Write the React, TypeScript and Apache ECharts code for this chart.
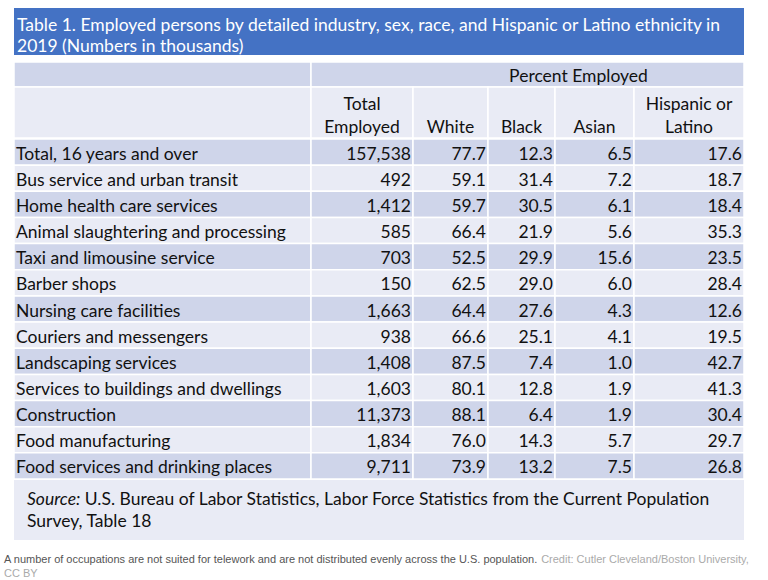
import React, { useEffect, useRef } from "react";
import * as echarts from "echarts";

const titleLines = [
  "Table 1. Employed persons by detailed industry, sex, race, and Hispanic or Latino ethnicity in",
  "2019 (Numbers in thousands)",
];
const groupHeader = "Percent Employed";
const columnHeaders = ["", "Total\nEmployed", "White", "Black", "Asian", "Hispanic or\nLatino"];
const industries = [
  "Total, 16 years and over",
  "Bus service and urban transit",
  "Home health care services",
  "Animal slaughtering and processing",
  "Taxi and limousine service",
  "Barber shops",
  "Nursing care facilities",
  "Couriers and messengers",
  "Landscaping services",
  "Services to buildings and dwellings",
  "Construction",
  "Food manufacturing",
  "Food services and drinking places",
];
const totalEmployed = [157538, 492, 1412, 585, 703, 150, 1663, 938, 1408, 1603, 11373, 1834, 9711];
const whitePct = [77.7, 59.1, 59.7, 66.4, 52.5, 62.5, 64.4, 66.6, 87.5, 80.1, 88.1, 76.0, 73.9];
const blackPct = [12.3, 31.4, 30.5, 21.9, 29.9, 29.0, 27.6, 25.1, 7.4, 12.8, 6.4, 14.3, 13.2];
const asianPct = [6.5, 7.2, 6.1, 5.6, 15.6, 6.0, 4.3, 4.1, 1.0, 1.9, 1.9, 5.7, 7.5];
const hispanicPct = [17.6, 18.7, 18.4, 35.3, 23.5, 28.4, 12.6, 19.5, 42.7, 41.3, 30.4, 29.7, 26.8];
const sourceLabel = "Source:";
const sourceLines = [
  " U.S. Bureau of Labor Statistics, Labor Force Statistics from the Current Population",
  "Survey, Table 18",
];
const captionText =
  "A number of occupations are not suited for telework and are not distributed evenly across the U.S. population.";
const creditText = "Credit: Cutler Cleveland/Boston University,";
const creditText2 = "CC BY";

// layout
const LEFT = 14;
const WIDTH = 730;
const colEdges = [0, 297, 399, 474, 541, 620, 730];
const BLUE = "#4472C4";
const DARK = "#CFD5EA";
const LIGHT = "#E9EBF5";
const FONT = "17.5px Lato";
const TEXT = "#111";

function fmtInt(v: number) {
  return v.toLocaleString("en-US");
}

export default function App() {
  const ref = useRef<HTMLDivElement>(null);
  useEffect(() => {
    if (!ref.current) return;
    const chart = echarts.init(ref.current, undefined, { renderer: "svg" });

    const graphics: any[] = [];
    // Title bar
    graphics.push({
      type: "rect",
      shape: { x: LEFT, y: 8, width: WIDTH, height: 47 },
      style: { fill: BLUE },
      silent: true,
    });
    titleLines.forEach((t, i) => {
      graphics.push({
        type: "text",
        x: 17,
        y: 24 + i * 21,
        style: { text: t, fill: "#fff", font: "17.5px Lato", textAlign: "left", textVerticalAlign: "middle" },
        silent: true,
      });
    });
    // Header row 1
    graphics.push({
      type: "rect",
      shape: { x: LEFT, y: 62, width: colEdges[1], height: 25 },
      style: { fill: DARK, stroke: "#fff", lineWidth: 1.5 },
      silent: true,
    });
    graphics.push({
      type: "rect",
      shape: { x: LEFT + colEdges[1], y: 62, width: colEdges[6] - colEdges[1], height: 25 },
      style: { fill: DARK, stroke: "#fff", lineWidth: 1.5 },
      silent: true,
    });
    graphics.push({
      type: "text",
      x: LEFT + (colEdges[2] + colEdges[6]) / 2,
      y: 75,
      style: { text: groupHeader, fill: TEXT, font: FONT, textAlign: "center", textVerticalAlign: "middle" },
      silent: true,
    });
    // Header row 2
    for (let c = 0; c < 6; c++) {
      graphics.push({
        type: "rect",
        shape: { x: LEFT + colEdges[c], y: 87, width: colEdges[c + 1] - colEdges[c], height: 51 },
        style: { fill: LIGHT, stroke: "#fff", lineWidth: 1.5 },
        silent: true,
      });
      const lines = columnHeaders[c].split("\n");
      lines.forEach((ln, i) => {
        graphics.push({
          type: "text",
          x: LEFT + (colEdges[c] + colEdges[c + 1]) / 2,
          y: 126 - (lines.length - 1 - i) * 23,
          style: { text: ln, fill: TEXT, font: FONT, textAlign: "center", textVerticalAlign: "middle" },
          silent: true,
        });
      });
    }
    // Source box
    graphics.push({
      type: "rect",
      shape: { x: LEFT, y: 480, width: WIDTH, height: 60 },
      style: { fill: LIGHT },
      silent: true,
    });
    graphics.push({
      type: "text",
      x: 27,
      y: 498,
      style: {
        text: "{i|" + sourceLabel + "}{n|" + sourceLines[0] + "}",
        rich: {
          i: { font: "italic 17.5px Lato", fill: TEXT },
          n: { font: FONT, fill: TEXT },
        },
        textAlign: "left",
        textVerticalAlign: "middle",
      },
      silent: true,
    });
    graphics.push({
      type: "text",
      x: 27,
      y: 520,
      style: { text: sourceLines[1], fill: TEXT, font: FONT, textAlign: "left", textVerticalAlign: "middle" },
      silent: true,
    });
    // Caption
    graphics.push({
      type: "text",
      x: 4,
      y: 559,
      style: {
        text: "{a|" + captionText + "} {b|" + creditText + "}",
        rich: {
          a: { font: "11px 'Liberation Sans', Arial", fill: "#555" },
          b: { font: "11px 'Liberation Sans', Arial", fill: "#aaa" },
        },
        textAlign: "left",
        textVerticalAlign: "middle",
      },
      silent: true,
    });
    graphics.push({
      type: "text",
      x: 4,
      y: 573,
      style: { text: creditText2, fill: "#aaa", font: "11px 'Liberation Sans', Arial", textAlign: "left", textVerticalAlign: "middle" },
      silent: true,
    });

    const option: any = {
      animation: false,
      backgroundColor: "#fff",
      grid: { left: LEFT, top: 139, width: WIDTH, height: 340 },
      xAxis: { type: "value", min: 0, max: WIDTH, show: false },
      yAxis: { type: "category", data: industries, inverse: true, show: false },
      graphic: graphics,
      series: [
        {
          type: "custom",
          silent: true,
          data: industries.map((_, i) => [0, i]),
          renderItem: (params: any, api: any) => {
            const r = api.value(1) as number;
            const h = api.size([0, 1])[1];
            const fill = r % 2 === 0 ? DARK : LIGHT;
            const cells = [
              industries[r],
              fmtInt(totalEmployed[r]),
              whitePct[r].toFixed(1),
              blackPct[r].toFixed(1),
              asianPct[r].toFixed(1),
              hispanicPct[r].toFixed(1),
            ];
            const children: any[] = [];
            for (let c = 0; c < 6; c++) {
              const a = api.coord([colEdges[c], r]);
              const b = api.coord([colEdges[c + 1], r]);
              children.push({
                type: "rect",
                shape: { x: a[0], y: a[1] - h / 2, width: b[0] - a[0], height: h },
                style: { fill, stroke: "#fff", lineWidth: 1.5 },
              });
              children.push({
                type: "text",
                x: c === 0 ? a[0] + 2 : b[0] - 2,
                y: a[1] + 1,
                style: {
                  text: cells[c],
                  fill: TEXT,
                  font: FONT,
                  textAlign: c === 0 ? "left" : "right",
                  textVerticalAlign: "middle",
                },
              });
            }
            return { type: "group", children };
          },
        },
      ],
    };
    chart.setOption(option);
    return () => chart.dispose();
  }, []);
  return (
    <div
      ref={ref}
      style={{ position: "fixed", left: 0, top: 0, width: 768, height: 580, background: "#fff" }}
    />
  );
}
